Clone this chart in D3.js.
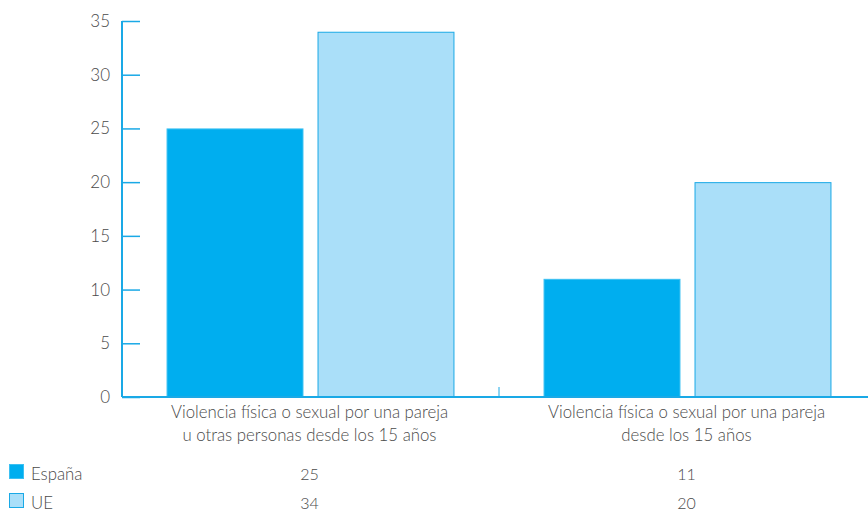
<!DOCTYPE html>
<html><head><meta charset="utf-8">
<script src="https://cdn.jsdelivr.net/npm/d3@7"></script>
<style>body{margin:0;background:#fff}svg{display:block}text{font-family:"Lato","Noto Sans",sans-serif;font-weight:300;fill:#4a4a4a}</style>
</head><body>
<svg id="c" width="868" height="512"></svg>
<script>
const categories = [
  ["Violencia física o sexual por una pareja", "u otras personas desde los 15 años"],
  ["Violencia física o sexual por una pareja", "desde los 15 años"]
];
const seriesNames = ["España", "UE"];
const espana = [25, 11];
const ue = [34, 20];
const yTicks = [0, 5, 10, 15, 20, 25, 30, 35];

const colors = {"España": "#00aeef", "UE": "#aadff9"};
const strokes = {"España": "#3cc0f2", "UE": "#1aa9e6"};
const axisColor = "#1aa9e6";

const svg = d3.select("#c");
const x0 = 122, x1 = 876, yTop = 21, yBot = 397;
const x = d3.scaleBand().domain([0, 1]).range([x0, x1]);
const xs = d3.scaleBand().domain(seriesNames).range([0, x.bandwidth()]).paddingInner(0.093).paddingOuter(0.295);
const y = d3.scaleLinear().domain([0, 35]).range([yBot, yTop]);

const data = [espana, ue];
// bars
seriesNames.forEach((s, si) => {
  svg.append("g").selectAll("rect").data(data[si]).join("rect")
    .attr("x", (d, i) => x(i) + xs(s) + 0.5)
    .attr("y", d => y(d) + 0.5)
    .attr("width", xs.bandwidth() - 1)
    .attr("height", d => y(0) - y(d) - 0.5)
    .attr("fill", colors[s])
    .attr("stroke", strokes[s])
    .attr("stroke-width", 1);
});

// y axis
const ya = d3.axisRight(y).tickValues(yTicks).tickSize(18).tickFormat("");
const gy = svg.append("g").attr("transform", `translate(${x0},0)`).call(ya);
gy.select(".domain").remove();
gy.selectAll("line").attr("stroke", axisColor).attr("stroke-width", 1.5);
svg.append("line").attr("x1", x0).attr("x2", x0).attr("y1", yTop).attr("y2", yBot)
  .attr("stroke", axisColor).attr("stroke-width", 2);
svg.append("g").selectAll("text").data(yTicks).join("text")
  .attr("x", 110).attr("y", d => y(d) + 6)
  .attr("text-anchor", "end").attr("font-size", 17).text(d => d);

// x axis
svg.append("line").attr("x1", x0).attr("x2", 868).attr("y1", yBot).attr("y2", yBot)
  .attr("stroke", axisColor).attr("stroke-width", 2);
svg.append("line").attr("x1", x(1)).attr("x2", x(1)).attr("y1", yBot).attr("y2", yBot - 10)
  .attr("stroke", axisColor).attr("stroke-width", 1);

// category labels
categories.forEach((lines, i) => {
  const t = svg.append("text").attr("text-anchor", "middle").attr("font-size", 16.8);
  lines.forEach((l, j) => t.append("tspan").attr("x", x(i) + x.bandwidth() / 2 - 1).attr("y", 418 + j * 23).text(l));
});

// legend / data table
const rowsY = [474, 503];
seriesNames.forEach((s, si) => {
  svg.append("rect").attr("x", 9.5).attr("y", rowsY[si] - 9.5).attr("width", 14).attr("height", 14)
    .attr("fill", colors[s]).attr("stroke", strokes[s]);
  svg.append("text").attr("x", 31).attr("y", rowsY[si] + 6).attr("font-size", 16.8).text(s);
  svg.append("g").selectAll("text").data(data[si]).join("text")
    .attr("x", (d, i) => x(i) + x.bandwidth() / 2 - 1).attr("y", rowsY[si] + 6)
    .attr("text-anchor", "middle").attr("font-size", 16).text(d => d);
});
</script>
</body></html>
